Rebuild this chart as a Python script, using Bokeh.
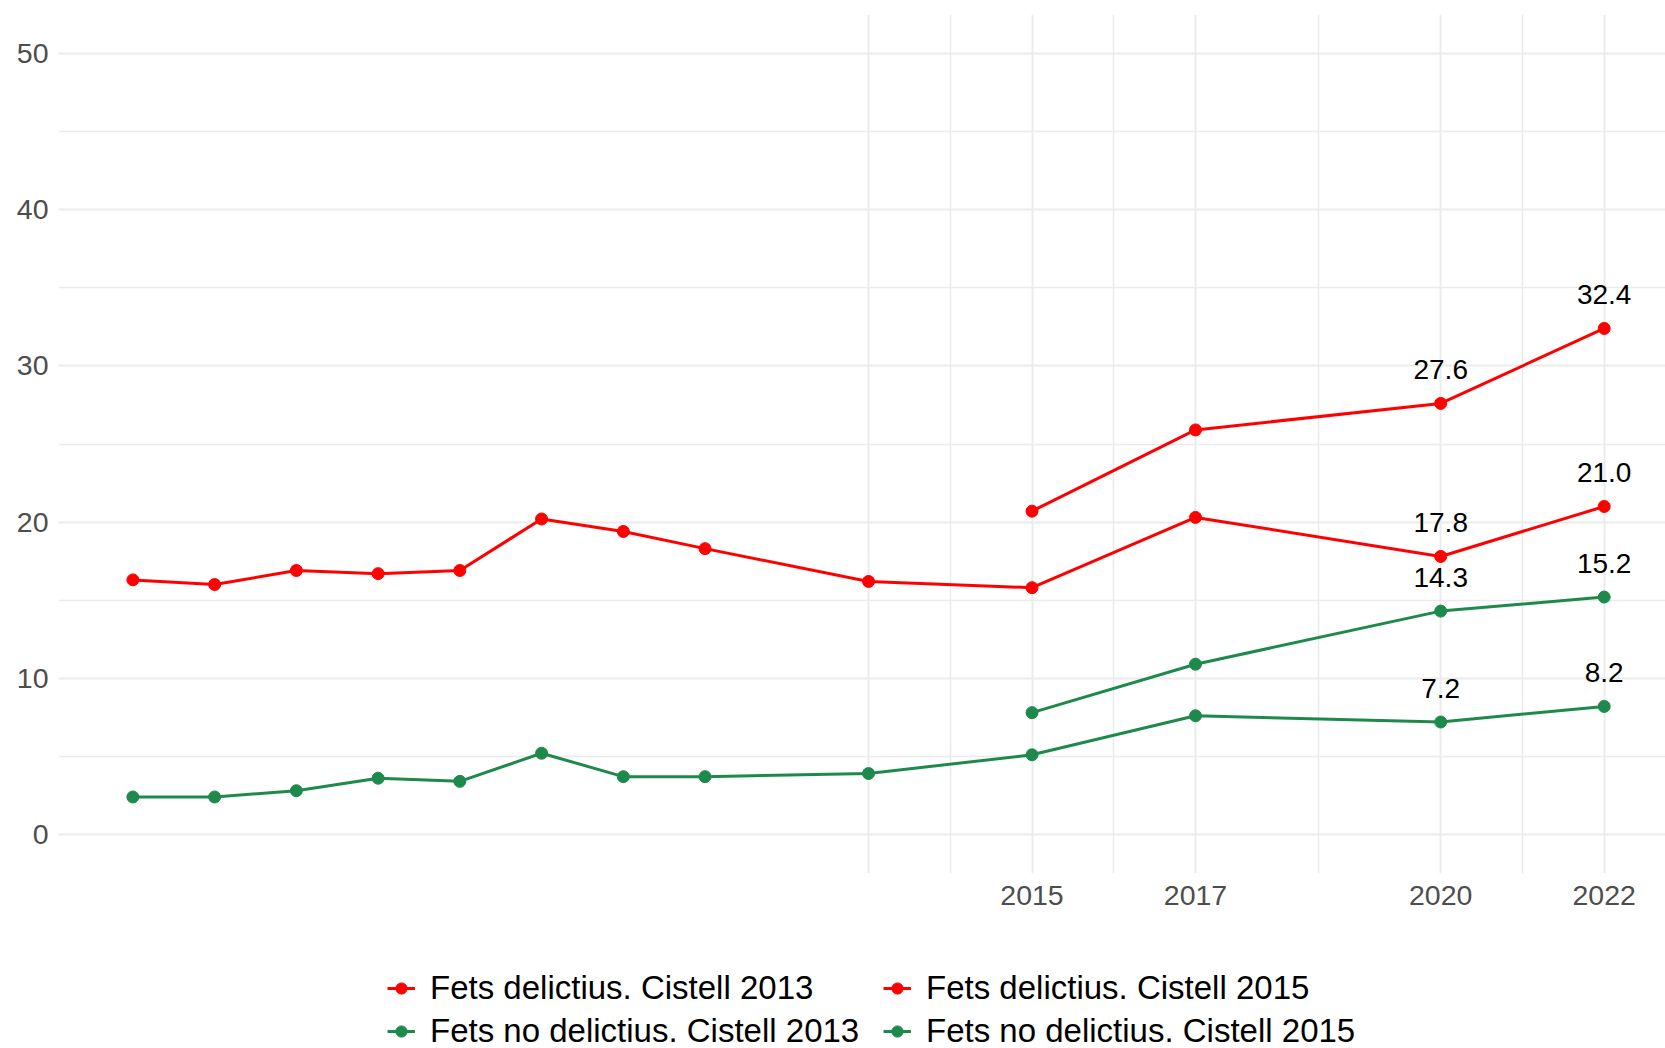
from bokeh.plotting import figure
from bokeh.models import Range1d, FixedTicker, Legend, LegendItem, ColumnDataSource
from bokeh.layouts import column
from bokeh.core.properties import value
from bokeh.embed import file_html
from bokeh.resources import INLINE

# ---------------- data ----------------
years_2013 = [2004, 2005, 2006, 2007, 2008, 2009, 2010, 2011, 2013, 2015, 2017, 2020, 2022]
years_2015 = [2015, 2017, 2020, 2022]

delictius_2013 = [16.3, 16.0, 16.9, 16.7, 16.9, 20.2, 19.4, 18.3, 16.2, 15.8, 20.3, 17.8, 21.0]
delictius_2015 = [20.7, 25.9, 27.6, 32.4]
no_delictius_2013 = [2.4, 2.4, 2.8, 3.6, 3.4, 5.2, 3.7, 3.7, 3.9, 5.1, 7.6, 7.2, 8.2]
no_delictius_2015 = [7.8, 10.9, 14.3, 15.2]

series_names = [
    "Fets delictius. Cistell 2013",
    "Fets delictius. Cistell 2015",
    "Fets no delictius. Cistell 2013",
    "Fets no delictius. Cistell 2015",
]
label_years = [2020, 2022]

x_ticks = [2013, 2015, 2017, 2020, 2022]
x_minor = [2014, 2016, 2018.5, 2021]
x_labels = {2013: ""}
y_ticks = [0, 10, 20, 30, 40, 50]
y_minor = [5, 15, 25, 35, 45]

RED = "#FF0000"
GREEN = "#1D8A4B"
FONT = "Liberation Sans"

p = figure(width=1665, height=940, output_backend="svg", toolbar_location=None,
           x_range=Range1d(2003.09, 2022.75), y_range=Range1d(-2.5, 52.5),
           min_border_left=58, min_border_right=0, min_border_top=14, min_border_bottom=67)
p.outline_line_color = None
p.background_fill_color = "white"

# axes
p.xaxis.ticker = FixedTicker(ticks=x_ticks, minor_ticks=x_minor)
p.xaxis.major_label_overrides = x_labels
p.yaxis.ticker = FixedTicker(ticks=y_ticks, minor_ticks=y_minor)
for ax in (p.xaxis, p.yaxis):
    ax.axis_line_color = None
    ax.major_tick_line_color = None
    ax.minor_tick_line_color = None
    ax.major_tick_in = 0
    ax.major_tick_out = 0
    ax.minor_tick_in = 0
    ax.minor_tick_out = 0
    ax.major_label_text_font = FONT
    ax.major_label_text_font_size = "28.5px"
    ax.major_label_text_color = "#4D4D4D"
p.xaxis.major_label_standoff = 12
p.yaxis.major_label_standoff = 10

for g in (p.xgrid, p.ygrid):
    g.grid_line_color = "#EBEBEB"
    g.grid_line_width = 2
    g.minor_grid_line_color = "#EBEBEB"
    g.minor_grid_line_width = 1.5

series = [
    (years_2013, delictius_2013, RED),
    (years_2015, delictius_2015, RED),
    (years_2013, no_delictius_2013, GREEN),
    (years_2015, no_delictius_2015, GREEN),
]

# legend strip below the chart (its own data lie outside its visible range)
p2 = figure(width=1665, height=108, output_backend="svg", toolbar_location=None,
            x_range=Range1d(0, 1), y_range=Range1d(0, 1),
            min_border_left=0, min_border_right=0, min_border_top=0, min_border_bottom=0)
p2.axis.visible = False
p2.grid.visible = False
p2.outline_line_color = None

items = []
for name, (xs, ys, col) in zip(series_names, series):
    src = ColumnDataSource(dict(x=xs, y=ys))
    p.line("x", "y", source=src, line_color=col, line_width=3)
    p.scatter("x", "y", source=src, size=12, fill_color=col, line_color=col)
    lx = [x for x in xs if x in label_years]
    ly = [y for x, y in zip(xs, ys) if x in label_years]
    lt = ["%.1f" % y for y in ly]
    p.text(x=lx, y=ly, text=lt, text_align="center", text_baseline="alphabetic",
           y_offset=-34, text_font=value(FONT), text_font_size="28px", text_color="black")
    ln2 = p2.line("x", "y", source=src, line_color=col, line_width=3)
    sc2 = p2.scatter("x", "y", source=src, size=12, fill_color=col, line_color=col)
    items.append(LegendItem(label=name, renderers=[ln2, sc2]))

legend = Legend(items=items, location=(329, -2), orientation="horizontal", ncols=2,
                border_line_color=None, background_fill_alpha=0, padding=0, margin=0,
                spacing=5, glyph_width=28, glyph_height=28, label_standoff=15,
                label_width=448, label_text_font=FONT, label_text_font_size="33px",
                label_text_color="black")
p2.add_layout(legend)

open("out.html", "w").write(file_html(column(p, p2, spacing=0), INLINE))
